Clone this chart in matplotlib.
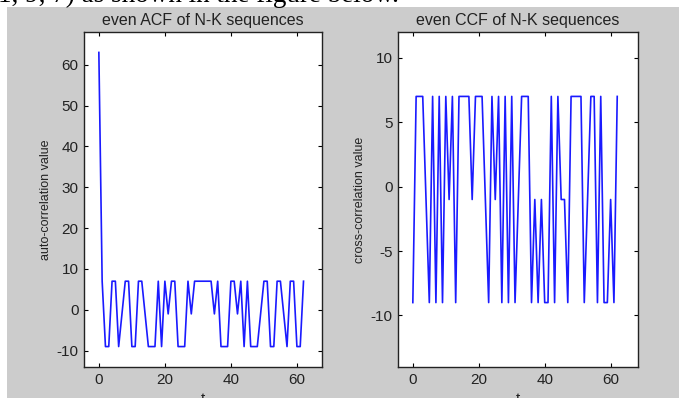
import matplotlib
matplotlib.use('Agg')
import matplotlib.pyplot as plt
from matplotlib.patches import Rectangle
import numpy as np

plt.rcParams['axes.unicode_minus'] = False

# lags 0..62
lags = list(range(63))

# even ACF of N-K sequence
acf_values = [63, 7, -9, -9, 7, 7, -9, -1, 7, 7,
              -9, -9, 7, 7, -1, -9, -9, -9, 7, -9,
              7, -1, 7, 7, -9, -9, -9, 7, -1, 7,
              7, 7, 7, 7, 7, -1, 7, -9, -9, -9,
              7, 7, -1, 7, -9, 7, -9, -9, -9, -1,
              7, 7, -9, -9, 7, 7, -1, -9, 7, 7,
              -9, -9, 7]

# even CCF of N-K sequences
ccf_values = [-9, 7, 7, 7, -1, -9, 7, -9, 7, -9,
              7, -1, 7, -9, 7, 7, 7, 7, -1, 7,
              7, 7, -1, -9, 7, -1, 7, -9, 7, -9,
              7, -9, -1, 7, 7, 7, -9, -1, -9, -1,
              -9, -9, 7, -9, 7, -1, -1, -9, 7, 7,
              7, 7, -9, -1, 7, 7, -9, 7, -9, -9,
              -1, -9, 7]

titles = ['even ACF of N-K sequences', 'even CCF of N-K sequences']
ylabels = ['auto-correlation value', 'cross-correlation value']
acf_yticks = [-10, 0, 10, 20, 30, 40, 50, 60]
ccf_yticks = [-10, -5, 0, 5, 10]
xticks = [0, 20, 40, 60]

W, H = 679, 398
fig = plt.figure(figsize=(W / 100, H / 100), dpi=100, facecolor='white')

# grey matlab figure area, with a white margin on the top and left
fig.patches.append(Rectangle((7 / W, 0), 1, (H - 7) / H, transform=fig.transFigure,
                             facecolor='#cccccc', edgecolor='none', zorder=-5))

# cut-off sentence from the page above the figure
fig.text(-2 / W, 1 - 2.5 / H, '1, 9, 7) as shown in the figure below.',
         family='Liberation Serif', fontsize=19.5, va='baseline', ha='left', zorder=-4)

sans = 'Liberation Sans'

def make_axes(px_left, px_right, px_top, px_bottom):
    return fig.add_axes([px_left / W, (H - px_bottom) / H,
                         (px_right - px_left) / W, (px_bottom - px_top) / H])

ax1 = make_axes(84, 322, 32, 367)
ax2 = make_axes(398, 638, 32, 367)

panels = [
    (ax1, acf_values, (-4.5, 67.6), (-14, 68), acf_yticks),
    (ax2, ccf_values, (-4.5, 68.3), (-14, 12), ccf_yticks),
]

for i, (ax, vals, xl, yl, yt) in enumerate(panels):
    ax.set_zorder(1)
    ax.plot(lags, vals, color='#1a1aff', lw=1.2)
    ax.set_xlim(*xl)
    ax.set_ylim(*yl)
    ax.set_xticks(xticks)
    ax.set_yticks(yt)
    ax.tick_params(direction='in', length=3, width=0.8, top=True, right=True,
                   labelsize=11, pad=4, colors='black', labelcolor='#222222')
    for lab in ax.get_xticklabels() + ax.get_yticklabels():
        lab.set_family(sans)
    for sp in ax.spines.values():
        sp.set_linewidth(1.0)
        sp.set_color('#222222')
    ax.set_title(titles[i], family=sans, fontsize=11.5, pad=5, color='#222222')
    ax.set_ylabel(ylabels[i], family=sans, fontsize=9, labelpad=3, color='#222222')
    ax.set_xlabel('t', family=sans, fontsize=11, labelpad=4, color='#222222')

fig.savefig('out.png', dpi=100, facecolor=fig.get_facecolor())
